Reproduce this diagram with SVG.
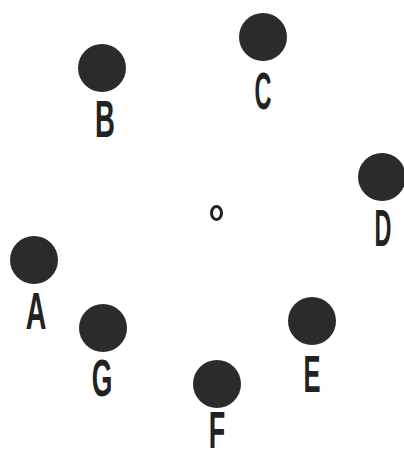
<svg xmlns="http://www.w3.org/2000/svg" width="404" height="450" viewBox="0 0 404 450">
<style>
.n{fill:#2b2b2b}
.l{font-family:"Liberation Sans",Arial,sans-serif;font-weight:bold;font-size:51px;fill:#222;text-anchor:middle}
</style>
<rect width="404" height="450" fill="#fff"/>
<g id="connectors"></g>
<g id="center"><ellipse cx="216.5" cy="213" rx="5" ry="6.5" fill="none" stroke="#222" stroke-width="3"/></g>
<g id="A"><circle class="n" cx="34" cy="260" r="24"/><text class="l" transform="translate(36 329) scale(0.56 1)">A</text></g>
<g id="B"><circle class="n" cx="102" cy="68" r="24"/><text class="l" transform="translate(105 137) scale(0.54 1)">B</text></g>
<g id="C"><circle class="n" cx="263" cy="37" r="24"/><text class="l" transform="translate(263 109) scale(0.46 1)">C</text></g>
<g id="D"><circle class="n" cx="382" cy="177" r="24"/><text class="l" transform="translate(383 246) scale(0.46 1)">D</text></g>
<g id="E"><circle class="n" cx="312" cy="321" r="24"/><text class="l" transform="translate(312 392) scale(0.5 1)">E</text></g>
<g id="F"><circle class="n" cx="217" cy="384" r="24"/><text class="l" transform="translate(217 448) scale(0.53 1)">F</text></g>
<g id="G"><circle class="n" cx="103" cy="328" r="24"/><text class="l" transform="translate(102 396) scale(0.52 1)">G</text></g>
</svg>
